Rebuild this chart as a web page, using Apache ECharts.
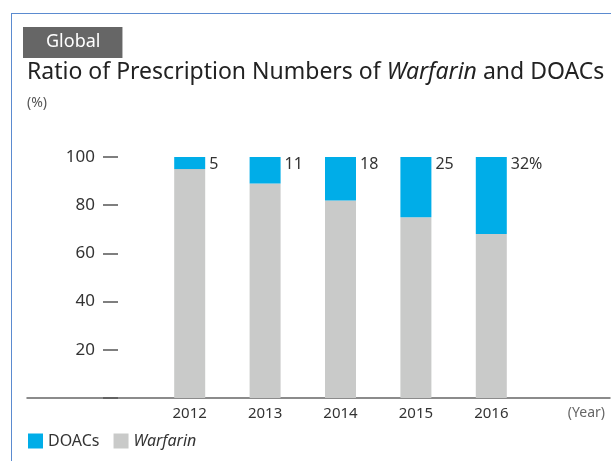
<!DOCTYPE html>
<html>
<head>
<meta charset="utf-8">
<script src="https://cdn.jsdelivr.net/npm/echarts@6/dist/echarts.min.js"></script>
<style>
  html, body { margin: 0; padding: 0; background: #fff; }
  #chart { width: 611px; height: 461px; }
  .frame {
    position: absolute; left: 11px; top: 13px; width: 600px; height: 448px;
    border-top: 1px solid #5b8bd0; border-left: 1px solid #5b8bd0;
    pointer-events: none; box-sizing: border-box;
  }
</style>
</head>
<body>
<div id="chart"></div>
<div class="frame"></div>
<script>
const years = ["2012", "2013", "2014", "2015", "2016"];
const doacs = [5, 11, 18, 25, 32];
const warfarin = [95, 89, 82, 75, 68];
const yTicks = [0, 20, 40, 60, 80, 100];

const font = "Noto Sans";
const chart = echarts.init(document.getElementById("chart"));

chart.setOption({
  textStyle: { fontFamily: font },
  animation: false,
  title: [
    {
      text: "Global",
      left: 23,
      top: 27,
      backgroundColor: "#666666",
      padding: [4, 22, 5, 23],
      textStyle: { fontSize: 18, color: "#fff", fontWeight: "normal", fontFamily: font, lineHeight: 22 }
    },
    {
      text: "{n|Ratio of Prescription Numbers of }{i|Warfarin}{n| and DOACs}",
      left: 27,
      top: 61,
      padding: 0,
      textStyle: {
        fontWeight: "normal",
        rich: {
          n: { fontSize: 23, color: "#222", fontFamily: font, fontWeight: "normal" },
          i: { fontSize: 23, color: "#222", fontFamily: font, fontWeight: "normal", fontStyle: "italic" }
        }
      }
    },
    {
      text: "(%)",
      left: 27,
      top: 96,
      padding: 0,
      textStyle: { fontSize: 14, color: "#555", fontWeight: "normal", fontFamily: font }
    }
  ],
  legend: {
    data: ["DOACs", "Warfarin"],
    left: 23,
    top: 428,
    itemWidth: 15,
    itemHeight: 15,
    itemGap: 14,
    icon: "rect",
    formatter: (name) => (name === "Warfarin" ? "{i|Warfarin}" : name),
    textStyle: {
      fontSize: 16,
      color: "#333",
      fontFamily: font,
      rich: { i: { fontSize: 16, color: "#333", fontFamily: font, fontStyle: "italic" } }
    }
  },
  grid: [
    { left: 152, right: 82, top: 157, bottom: 63 },
    { left: 27, right: 1, top: 157, bottom: 63 }
  ],
  xAxis: [
    {
      type: "category",
      gridIndex: 0,
      data: years,
      axisLine: { show: false },
      axisTick: { show: false },
      axisLabel: { margin: 8, fontSize: 15, color: "#333", fontFamily: font }
    },
    {
      type: "value",
      gridIndex: 1,
      min: 0,
      max: 1,
      axisLine: { show: true, lineStyle: { color: "#666", width: 1.5 } },
      axisTick: { show: false },
      axisLabel: { show: false },
      splitLine: { show: false },
      name: "(Year)",
      nameLocation: "end",
      nameGap: -5,
      nameTextStyle: {
        align: "right",
        verticalAlign: "top",
        padding: [8, 0, 0, 0],
        fontSize: 14,
        color: "#666",
        fontFamily: font
      }
    }
  ],
  yAxis: [
    {
      type: "value",
      gridIndex: 0,
      min: yTicks[0],
      max: yTicks[yTicks.length - 1],
      interval: 20,
      offset: 34,
      axisLine: { show: false },
      axisTick: { show: true, length: 15, lineStyle: { color: "#555", width: 1.5 } },
      axisLabel: {
        margin: 23,
        fontSize: 17,
        color: "#333",
        fontFamily: font,
        formatter: (v) => (v === 0 ? "" : v)
      },
      splitLine: { show: false }
    },
    {
      type: "value",
      gridIndex: 1,
      show: false
    }
  ],
  series: [
    {
      name: "Warfarin",
      type: "bar",
      stack: "total",
      barWidth: 31,
      xAxisIndex: 0,
      yAxisIndex: 0,
      itemStyle: { color: "#c9cac9" },
      data: warfarin
    },
    {
      name: "DOACs",
      type: "bar",
      stack: "total",
      barWidth: 31,
      xAxisIndex: 0,
      yAxisIndex: 0,
      itemStyle: { color: "#00ade8" },
      label: {
        show: true,
        position: [35, -1],
        fontSize: 16,
        color: "#333",
        fontFamily: font,
        formatter: (p) => (p.dataIndex === doacs.length - 1 ? p.value + "%" : p.value)
      },
      data: doacs
    }
  ]
});
</script>
</body>
</html>
